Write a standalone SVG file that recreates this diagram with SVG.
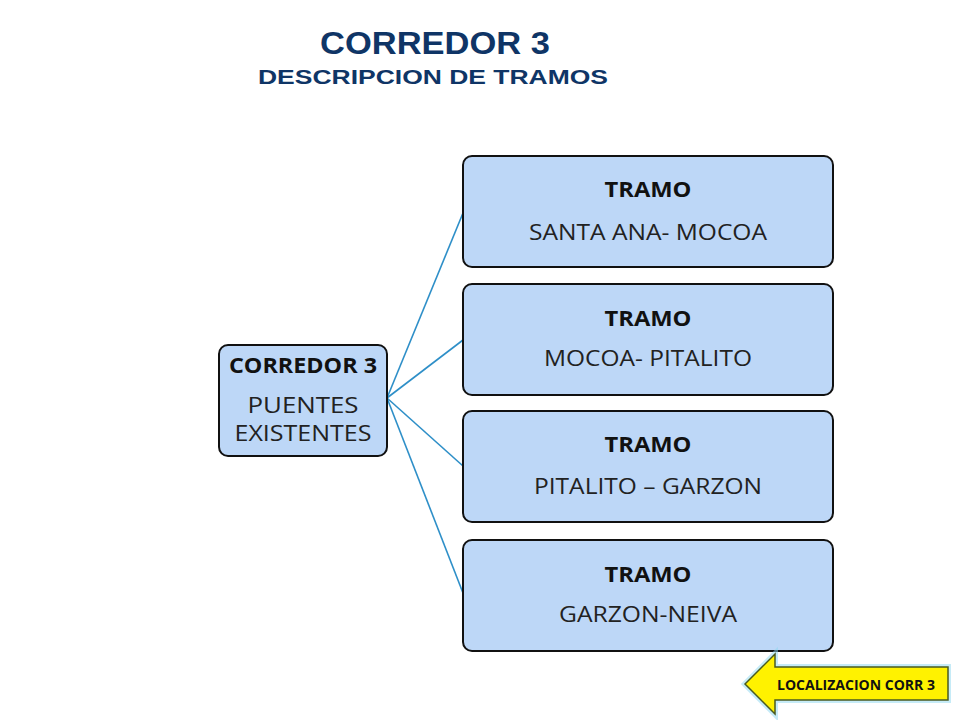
<svg xmlns="http://www.w3.org/2000/svg" width="960" height="720" viewBox="0 0 960 720">
<style>
.t{font-family:"Liberation Sans",Arial,sans-serif;font-weight:bold;fill:#0F3566;text-anchor:middle}
.box{fill:#BDD7F7;stroke:#111;stroke-width:2}
.h{font-family:"Open Sans","Liberation Sans",sans-serif;font-weight:bold;font-size:21px;fill:#111;text-anchor:middle}
.s{font-family:"Open Sans","Liberation Sans",sans-serif;font-size:21px;fill:#222;text-anchor:middle}
.c{stroke:#2E8FC8;stroke-width:1.6;fill:none}
</style>
<rect width="960" height="720" fill="#fff"/>
<text class="t" x="435" y="54" font-size="31" textLength="230" lengthAdjust="spacingAndGlyphs">CORREDOR 3</text>
<text class="t" x="433" y="84" font-size="21" textLength="350" lengthAdjust="spacingAndGlyphs">DESCRIPCION DE TRAMOS</text>
<g id="connectors">
<line class="c" x1="387" y1="398" x2="463" y2="213"/>
<line class="c" x1="387" y1="398" x2="463" y2="340"/>
<line class="c" x1="387" y1="398" x2="463" y2="466"/>
<line class="c" x1="387" y1="398" x2="463" y2="593"/>
</g>
<g id="root">
<rect class="box" x="219" y="345" width="168" height="111" rx="9"/>
<text class="h" x="303" y="373" textLength="148" lengthAdjust="spacingAndGlyphs">CORREDOR 3</text>
<text class="s" x="303" y="413" textLength="111" lengthAdjust="spacingAndGlyphs">PUENTES</text>
<text class="s" x="303" y="441" textLength="137" lengthAdjust="spacingAndGlyphs">EXISTENTES</text>
</g>
<g id="t1"><rect class="box" x="463" y="156" width="370" height="111" rx="9"/>
<text class="h" x="648" y="197" textLength="87" lengthAdjust="spacingAndGlyphs">TRAMO</text><text class="s" x="648" y="240" textLength="238" lengthAdjust="spacingAndGlyphs">SANTA ANA- MOCOA</text></g>
<g id="t2"><rect class="box" x="463" y="284" width="370" height="111" rx="9"/>
<text class="h" x="648" y="326" textLength="87" lengthAdjust="spacingAndGlyphs">TRAMO</text><text class="s" x="648" y="366" textLength="208" lengthAdjust="spacingAndGlyphs">MOCOA- PITALITO</text></g>
<g id="t3"><rect class="box" x="463" y="411" width="370" height="111" rx="9"/>
<text class="h" x="648" y="452" textLength="87" lengthAdjust="spacingAndGlyphs">TRAMO</text><text class="s" x="648" y="494" textLength="228" lengthAdjust="spacingAndGlyphs">PITALITO – GARZON</text></g>
<g id="t4"><rect class="box" x="463" y="540" width="370" height="111" rx="9"/>
<text class="h" x="648" y="582" textLength="87" lengthAdjust="spacingAndGlyphs">TRAMO</text><text class="s" x="648" y="622" textLength="178" lengthAdjust="spacingAndGlyphs">GARZON-NEIVA</text></g>
<g id="button">
<polygon points="745,684 775,654 775,667 948,667 948,700 775,700 775,714" fill="#8ED8F0" opacity="0.5" stroke="#8ED8F0" stroke-width="6"/>
<polygon points="745,684 775,654 775,667 948,667 948,700 775,700 775,714" fill="#FFF200" stroke="#4A5A20" stroke-width="1.5"/>
<text x="856" y="690" font-family="Open Sans,Liberation Sans,sans-serif" font-weight="bold" font-size="14" fill="#111" text-anchor="middle" textLength="158" lengthAdjust="spacingAndGlyphs">LOCALIZACION CORR 3</text>
</g>
</svg>
